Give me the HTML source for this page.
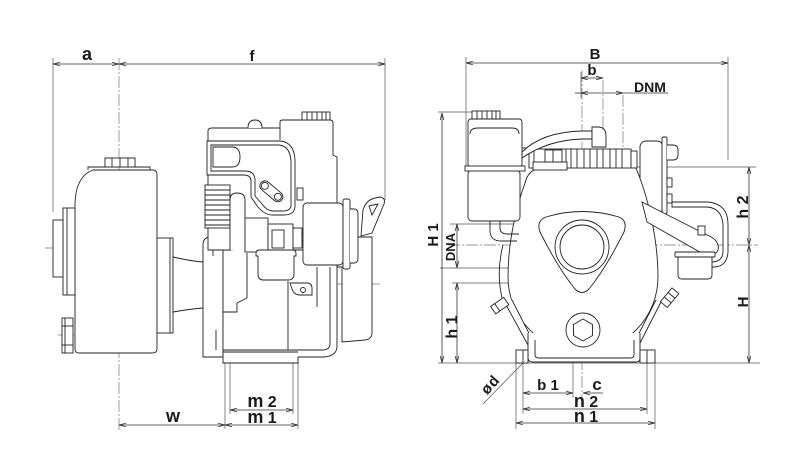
<!DOCTYPE html>
<html><head><meta charset="utf-8"><style>
html,body{margin:0;padding:0;background:#fff;}
svg{display:block}
text{font-family:"Liberation Sans",sans-serif;font-weight:bold;fill:#1a1a1a}
</style></head><body>
<svg width="800" height="470" viewBox="0 0 800 470" xmlns="http://www.w3.org/2000/svg">
<defs>
<marker id="ar" markerWidth="8" markerHeight="6" refX="7" refY="3" orient="auto-start-reverse" markerUnits="userSpaceOnUse"><path d="M0,1.2 L7,3 L0,4.8" fill="none" stroke="#333" stroke-width="0.8"/></marker>
</defs>

<!-- ===== center lines ===== -->
<g fill="none" stroke="#777" stroke-width="0.7" stroke-dasharray="12 2 2 2">
<line x1="119" y1="58" x2="119" y2="432"/>
<line x1="98" y1="284" x2="382" y2="284"/>
<line x1="45" y1="248" x2="82" y2="248"/>
<line x1="58" y1="335" x2="80" y2="335"/>
<line x1="582" y1="70" x2="582" y2="398"/>
<line x1="603" y1="80" x2="603" y2="225"/>
<line x1="623" y1="95" x2="623" y2="232"/>
<line x1="448" y1="245" x2="758" y2="245"/>
</g>

<!-- ===== extension lines ===== -->
<g fill="none" stroke="#555" stroke-width="0.7">
<line x1="53" y1="58" x2="53" y2="212"/>
<line x1="385" y1="58" x2="385" y2="200"/>
<line x1="225" y1="357" x2="225" y2="429"/>
<line x1="230" y1="352" x2="230" y2="414"/>
<line x1="293" y1="352" x2="293" y2="414"/>
<line x1="298" y1="362" x2="298" y2="429"/>
<line x1="466" y1="57" x2="466" y2="167"/>
<line x1="728" y1="57" x2="728" y2="160"/>
<line x1="581" y1="72" x2="581" y2="98"/>
<line x1="438" y1="112" x2="474" y2="112"/>
<line x1="450" y1="224" x2="545" y2="224"/>
<line x1="440" y1="268" x2="548" y2="268"/>
<line x1="452" y1="283" x2="606" y2="283"/>
<line x1="636" y1="167" x2="756" y2="167"/>
<line x1="438" y1="363" x2="760" y2="363"/>
<line x1="516" y1="363" x2="516" y2="429"/>
<line x1="523" y1="363" x2="523" y2="414"/>
<line x1="647" y1="363" x2="647" y2="414"/>
<line x1="655" y1="363" x2="655" y2="429"/>
<line x1="573" y1="283" x2="573" y2="398"/>
<line x1="523" y1="363" x2="483" y2="404"/>
</g>

<!-- ===== dimension lines ===== -->
<g fill="none" stroke="#333" stroke-width="0.8" marker-start="url(#ar)" marker-end="url(#ar)">
<line x1="53" y1="64" x2="119" y2="64"/>
<line x1="119" y1="64" x2="385" y2="64"/>
<line x1="119" y1="425" x2="225" y2="425"/>
<line x1="225" y1="425" x2="298" y2="425"/>
<line x1="230" y1="410" x2="293" y2="410"/>
<line x1="466" y1="63" x2="728" y2="63"/>
<line x1="581" y1="78" x2="603" y2="78"/>
<line x1="581" y1="93" x2="623" y2="93"/>
<line x1="442" y1="113" x2="442" y2="363"/>
<line x1="457" y1="224" x2="457" y2="268"/>
<line x1="457" y1="283" x2="457" y2="363"/>
<line x1="749" y1="167" x2="749" y2="245"/>
<line x1="749" y1="245" x2="749" y2="363"/>
<line x1="523" y1="393" x2="573" y2="393"/>
<line x1="523" y1="409" x2="647" y2="409"/>
<line x1="516" y1="423" x2="655" y2="423"/>
</g>
<g fill="none" stroke="#333" stroke-width="0.8">
<line x1="575" y1="93" x2="581" y2="93"/>
<line x1="623" y1="93" x2="668" y2="93"/>
<line x1="603" y1="393" x2="583" y2="393" marker-end="url(#ar)"/>
</g>

<!-- ===== LEFT VIEW drawing ===== -->
<g fill="#fff" stroke="#222" stroke-width="0.9">
<!-- pump casing -->
<path d="M93,170 L153,170 Q157,170 157,175 L157,349 Q157,353 152,353 L79,353 Q75,353 75,349 L75,203 Q76,176 93,170 Z"/>
<path d="M88,170 L88,167 L150,167 L150,170" fill="none"/>
<rect x="105" y="158" width="30" height="9"/>
<line x1="112" y1="158" x2="112" y2="167"/>
<line x1="120" y1="158" x2="120" y2="167"/>
<line x1="128" y1="158" x2="128" y2="167"/>
<!-- suction flange -->
<rect x="63" y="208" width="12" height="87"/>
<line x1="67" y1="208" x2="67" y2="295"/>
<rect x="53" y="220" width="10" height="57"/>
<!-- lower plug -->
<rect x="62" y="318" width="11" height="35"/>
<line x1="62" y1="326" x2="73" y2="326"/>
<line x1="62" y1="345" x2="73" y2="345"/>
<line x1="65" y1="318" x2="65" y2="353"/>
<!-- discharge side flange + cone -->
<rect x="157" y="238" width="16" height="95"/>
<line x1="170" y1="238" x2="170" y2="333"/>
<path d="M173,257 Q190,261 203,262 L203,308 Q190,309 173,312 Z"/>

<!-- bracket -->
<path d="M203,357 L203,245 Q203,237 211,237 L223,237 L223,357 Z"/>
<line x1="213" y1="243" x2="213" y2="256"/>
<line x1="216" y1="330" x2="216" y2="350"/>

<!-- right engine parts (behind) -->
<path d="M372,237 L372,333 Q372,339 365,340 L342,342 L342,267 L337,267 L337,237 Z"/>
<!-- crankcase -->
<path d="M223,250 L337,250 L337,346 Q337,356 324,357 L298,357 L298,363 L223,363 Z"/>
<path d="M223,350 L322,350 Q330,350 330,344 L330,267" fill="none"/>
<line x1="223" y1="352" x2="298" y2="352"/>
<line x1="288" y1="281" x2="288" y2="350"/>
<line x1="317" y1="267" x2="317" y2="307"/>
<path d="M247,253 L247,298 L237,303 L237,312 L223,312" fill="none"/>
<!-- upper engine -->
<path d="M208,228 L208,131 Q208,128 212,128 L280,128 L280,122 Q280,120 283,120 L330,120 Q333,120 333,123 L333,155 L337,157 L337,250 L208,250 Z"/>
<rect x="302" y="112" width="28" height="8"/>
<line x1="307" y1="112" x2="307" y2="120"/><line x1="312" y1="112" x2="312" y2="120"/><line x1="317" y1="112" x2="317" y2="120"/><line x1="322" y1="112" x2="322" y2="120"/><line x1="326" y1="112" x2="326" y2="120"/>
<path d="M248,128 Q248,120 255,120 Q262,120 262,128" />
<line x1="280" y1="128" x2="280" y2="140"/>
<!-- recoil panel -->
<path d="M207,141 L280,141 Q294,142 295,160 L295,207 Q294,215 284,215 L272,215 Q265,215 258,207 L251,197 L251,180 Q250,175 244,175 L207,175 Z"/>
<path d="M211,145 L279,145 Q290,146 291,161 L291,206 Q290,211 283,211 L273,211 Q267,211 262,204 L255,196 L255,179 Q254,171 245,171 L211,171 Z" fill="none"/>
<path d="M213,147 L232,147 Q240,147 240,157 Q240,167 232,167 L213,167 Z"/>
<g transform="rotate(40 271 191)"><rect x="258" y="186" width="27" height="10" rx="5"/><circle cx="263" cy="191" r="3.5"/><circle cx="280" cy="191" r="3.5"/></g>
<rect x="297" y="188" width="6" height="12"/>
<!-- fins -->
<rect x="205" y="185" width="25" height="43"/>
<line x1="205" y1="190" x2="230" y2="190"/><line x1="205" y1="195" x2="230" y2="195"/><line x1="205" y1="200" x2="230" y2="200"/><line x1="205" y1="205" x2="230" y2="205"/><line x1="205" y1="210" x2="230" y2="210"/><line x1="205" y1="215" x2="230" y2="215"/><line x1="205" y1="220" x2="230" y2="220"/><line x1="205" y1="225" x2="230" y2="225"/>
<path d="M230,250 L230,200 Q230,193 237,193 Q245,193 245,200 L245,252"/>
<!-- carburettor -->
<rect x="245" y="218" width="23" height="34"/>
<rect x="268" y="224" width="25" height="26"/>
<rect x="272" y="230" width="12" height="18" fill="none"/>
<rect x="293" y="228" width="9" height="20"/>
<rect x="302" y="232" width="7" height="10" rx="2"/>
<path d="M259,250 L293,250 Q296,250 296,254 L296,256 L294,256 L294,274 Q294,280 288,280 L263,280 Q258,280 258,274 L258,256 L256,256 L256,254 Q256,250 259,250 Z"/>
<path d="M290,283 L307,283 Q312,283 312,288 L312,295 L300,295 Q294,295 292,289 Z"/>
<circle cx="303" cy="290" r="2.5"/>
<!-- air cleaner / box -->
<rect x="303" y="203" width="40" height="62" rx="4"/>
<rect x="343" y="199" width="7" height="70" rx="2"/>
<path d="M350,209 L354,209 Q358,209 358,214 L358,258 Q358,263 354,263 L350,263"/>
<!-- lifting eye -->
<path d="M361,236 L363,210 Q366,200 375,198 L380,197 Q386,198 384,204 L372,233 Z"/>
<path d="M369,206 L378,204 L372,215 Z"/>
</g>

<!-- ===== RIGHT VIEW drawing ===== -->
<g fill="#fff" stroke="#222" stroke-width="0.9">
<!-- muffler loop (behind) -->
<path d="M672,202 L708,202 Q728,204 728,224 L728,252 Q727,266 715,267 L700,267 L700,262 L713,262 Q723,261 723,251 L723,225 Q722,208 707,207 L672,207 Z"/>
<!-- recoil starter -->
<rect x="640" y="141" width="23" height="72" rx="6"/>
<rect x="662" y="137" width="5" height="77" rx="1.5"/>
<path d="M667,145 L673,145 Q678,145 678,150 L678,155 Q678,160 673,160 L667,160"/>
<rect x="667" y="178" width="5" height="9"/>
<rect x="667" y="194" width="5" height="9"/>
<!-- engine body + casing -->
<path d="M540,168 L635,166 C 648,195 658,240 658,277 A75,75 0 0 1 508,277 C 508,240 517,205 525,183 Q 528,170 540,168 Z"/>
<!-- legs -->
<path d="M505,303 L528,345 L535,345 L512,300" fill="#fff"/>
<path d="M662,300 L638,347 L632,347 L656,300" fill="#fff"/>
<g transform="rotate(-35 500 306)"><rect x="492" y="301" width="16" height="9"/><line x1="497" y1="301" x2="497" y2="310"/></g>
<g transform="rotate(-50 670 298)"><rect x="661" y="293" width="18" height="9"/><line x1="667" y1="293" x2="667" y2="302"/><line x1="673" y1="293" x2="673" y2="302"/></g>
<path d="M503,245 Q496,272 502,298" fill="none"/>
<!-- base -->
<path d="M528,333 L528,358 Q528,362 533,362 L636,362 Q640,362 640,358 L640,333"/>
<path d="M535,340 L535,355 Q535,358 539,358 L630,358 Q634,358 634,355 L634,340" fill="none"/>
<rect x="516" y="350" width="12" height="13"/>
<line x1="523" y1="350" x2="523" y2="363"/>
<rect x="640" y="350" width="15" height="13"/>
<line x1="647" y1="350" x2="647" y2="363"/>
<!-- volute + outlet -->
<path d="M546,217 Q582,206 619,217 Q628,221 624,232 Q606,268 589,289 Q582,296 575,289 Q558,268 540,232 Q536,221 546,217 Z"/>
<circle cx="582" cy="247" r="27"/>
<circle cx="582" cy="247" r="22"/>
<!-- drain plug -->
<circle cx="583" cy="330" r="17"/>
<polygon points="583,319 592.5,324.5 592.5,335.5 583,341 573.5,335.5 573.5,324.5"/>
<!-- diagonal arm + carb -->
<path d="M642,202 L707,235 Q720,240 718,250 Q716,256 705,255 L647,222 Z"/>
<rect x="698" y="226" width="7" height="9"/>
<rect x="675" y="252" width="40" height="5" rx="1"/>
<path d="M678,257 L712,257 L712,275 Q712,279 708,279 L682,279 Q678,279 678,275 Z"/>
<!-- fins -->
<rect x="529" y="149" width="102" height="19"/>
<line x1="571" y1="149" x2="571" y2="168"/><line x1="577" y1="149" x2="577" y2="168"/><line x1="584" y1="149" x2="584" y2="168"/><line x1="590" y1="149" x2="590" y2="168"/><line x1="597" y1="149" x2="597" y2="168"/><line x1="603" y1="149" x2="603" y2="168"/><line x1="610" y1="149" x2="610" y2="168"/><line x1="616" y1="149" x2="616" y2="168"/><line x1="622" y1="149" x2="622" y2="168"/><line x1="534" y1="149" x2="534" y2="168"/><line x1="566" y1="149" x2="566" y2="168"/>
<rect x="631" y="151" width="6" height="17"/>
<rect x="533" y="162" width="34" height="8"/>
<rect x="545" y="150" width="17" height="12"/>
<line x1="553" y1="150" x2="553" y2="162"/>
<line x1="522" y1="148" x2="529" y2="148"/>
<!-- hose -->
<path d="M522,152 Q542,132 582,131 L592,131 L592,139 L582,139 Q548,140 522,158 Z"/>
<path d="M592,127 L598,127 Q606,127 606,136 L606,147 L592,147 Z"/>
<!-- tank -->
<rect x="472" y="111" width="28" height="8"/>
<line x1="477" y1="111" x2="477" y2="119"/><line x1="482" y1="111" x2="482" y2="119"/><line x1="487" y1="111" x2="487" y2="119"/><line x1="492" y1="111" x2="492" y2="119"/><line x1="496" y1="111" x2="496" y2="119"/>
<rect x="468" y="119" width="54" height="48" rx="3"/>
<path d="M470,134 Q470,128 478,128 L512,128 Q519,128 519,134" fill="none"/>
<rect x="468" y="170" width="52" height="51" rx="4"/>
<rect x="465" y="166" width="60" height="5"/>
<path d="M490,221 L490,232 Q491,241 501,241 L517,241 M500,221 L500,229 Q501,234 507,234 L519,234" fill="none"/>
</g>

<!-- ===== labels ===== -->
<text x="87" y="60" font-size="18" text-anchor="middle">a</text>
<text x="252" y="61" font-size="15" text-anchor="middle">f</text>
<text x="173" y="422" font-size="18" text-anchor="middle">w</text>
<text x="262" y="407" text-anchor="middle"><tspan font-size="18">m</tspan><tspan font-size="16"> 2</tspan></text>
<text x="262" y="423" text-anchor="middle"><tspan font-size="18">m</tspan><tspan font-size="16"> 1</tspan></text>
<text x="595" y="59" font-size="15" text-anchor="middle">B</text>
<text x="592" y="75" font-size="15" text-anchor="middle">b</text>
<text x="650" y="92" font-size="14" text-anchor="middle">DNM</text>
<text transform="translate(438,235) rotate(-90)" font-size="15" text-anchor="middle">H 1</text>
<text transform="translate(455,247) rotate(-90)" font-size="13" text-anchor="middle">DNA</text>
<text transform="translate(457,327) rotate(-90)" font-size="16" text-anchor="middle">h 1</text>
<text transform="translate(748,207) rotate(-90)" font-size="16" text-anchor="middle">h 2</text>
<text transform="translate(748,302) rotate(-90)" font-size="15" text-anchor="middle">H</text>
<text x="548" y="390" font-size="15" text-anchor="middle">b 1</text>
<text x="597" y="390" font-size="17" text-anchor="middle">c</text>
<text x="586" y="407" text-anchor="middle"><tspan font-size="18">n</tspan><tspan font-size="16"> 2</tspan></text>
<text x="586" y="422" text-anchor="middle"><tspan font-size="18">n</tspan><tspan font-size="16"> 1</tspan></text>
<text transform="translate(494,388) rotate(-48)" font-size="15" text-anchor="middle" letter-spacing="1">ød</text>
</svg>
</body></html>
